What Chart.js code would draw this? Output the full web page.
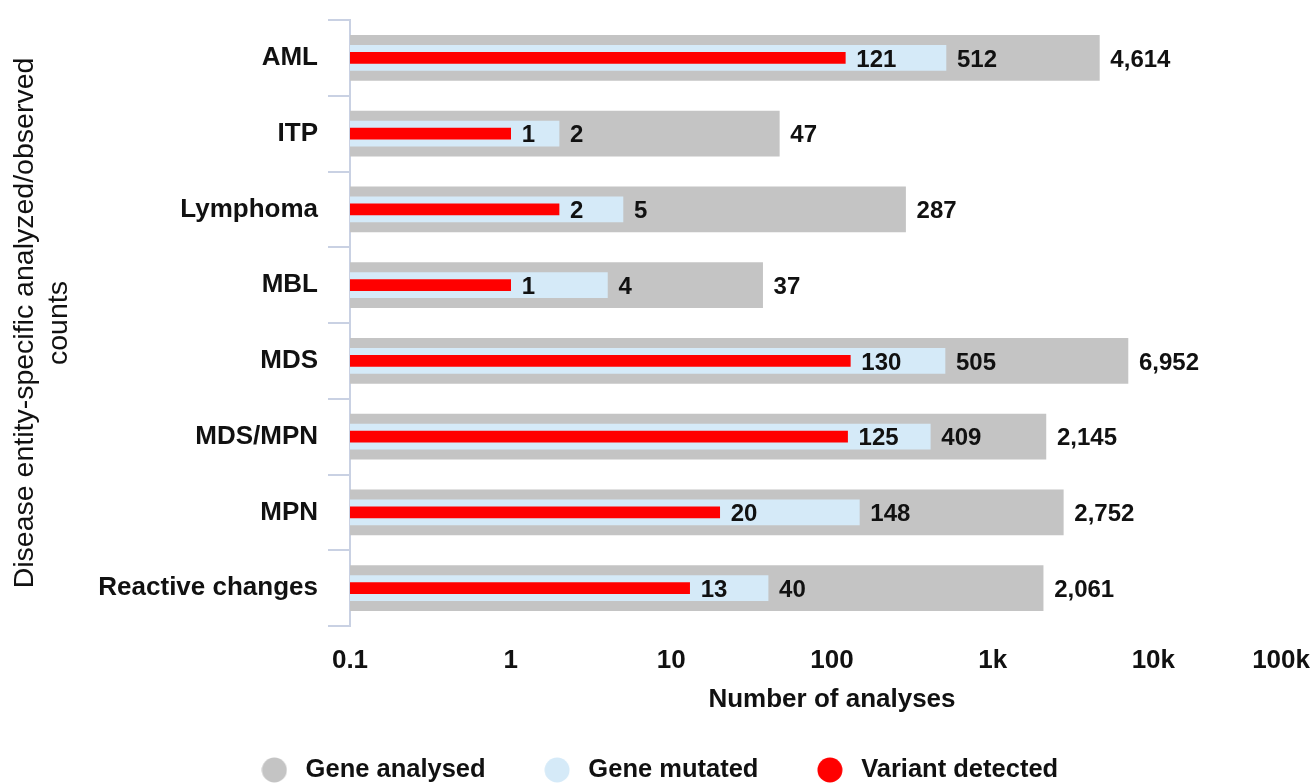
<!DOCTYPE html>
<html>
<head>
<meta charset="utf-8">
<title>Disease entity-specific analyses</title>
<script src="https://cdn.jsdelivr.net/npm/chart.js@4/dist/chart.umd.min.js"></script>
<style>
  html, body { margin: 0; padding: 0; background: #ffffff; }
  #wrap { position: relative; width: 1314px; height: 783px; }
</style>
</head>
<body>
<div id="wrap"><canvas id="chart"></canvas></div>
<script>
// Disease entities and their counts
const categories = ['AML', 'ITP', 'Lymphoma', 'MBL', 'MDS', 'MDS/MPN', 'MPN', 'Reactive changes'];
const geneAnalysed = [4614, 47, 287, 37, 6952, 2145, 2752, 2061];
const geneMutated = [512, 2, 5, 4, 505, 409, 148, 40];
const variantDetected = [121, 1, 2, 1, 130, 125, 20, 13];

// Logarithmic axis ticks
const tickValues = [0.1, 1, 10, 100, 1000, 10000, 100000];
const tickLabels = ['0.1', '1', '10', '100', '1k', '10k', '100k'];

const FONT = "'Liberation Sans', Arial, Helvetica, sans-serif";
const COLORS = { analysed: '#c4c4c4', mutated: '#d5eaf8', variant: '#ff0000' };
const AXIS_COLOR = '#c9d1e3';

// Round legend markers, drawn once as small canvases
function dot(color) {
  const c = document.createElement('canvas');
  c.width = 26; c.height = 26;
  const g = c.getContext('2d');
  g.fillStyle = color;
  g.beginPath();
  g.arc(13, 13, 12.5, 0, Math.PI * 2);
  g.fill();
  return c;
}

// Value labels at the end of each bar
const barValueLabels = {
  id: 'barValueLabels',
  afterDatasetsDraw(chart) {
    const ctx = chart.ctx;
    ctx.save();
    ctx.font = 'bold 24px ' + FONT;
    ctx.fillStyle = '#111111';
    ctx.textAlign = 'left';
    ctx.textBaseline = 'middle';
    // widest bars first so the narrower labels sit on top
    for (let d = chart.data.datasets.length - 1; d >= 0; d--) {
      const meta = chart.getDatasetMeta(d);
      const values = chart.data.datasets[d].data;
      meta.data.forEach((bar, i) => {
        ctx.fillText(values[i].toLocaleString('en-US'), bar.x + 11, bar.y + 2);
      });
    }
    ctx.restore();
  }
};

// Keep the last x tick label inside the canvas
const lastTickInside = {
  id: 'lastTickInside',
  beforeDraw(chart) {
    const xs = chart.scales.x;
    const items = xs.getLabelItems();
    const last = items[items.length - 1];
    if (last) {
      last.options.textAlign = 'right';
      last.options.translation = [xs.right - 4, last.options.translation[1]];
    }
  }
};

const markers = [dot(COLORS.variant), dot(COLORS.mutated), dot(COLORS.analysed)];

new Chart(document.getElementById('chart'), {
  type: 'bar',
  data: {
    labels: categories,
    datasets: [
      { label: 'Variant detected', data: variantDetected, backgroundColor: COLORS.variant, barThickness: 11, grouped: false },
      { label: 'Gene mutated', data: geneMutated, backgroundColor: COLORS.mutated, barThickness: 25, grouped: false },
      { label: 'Gene analysed', data: geneAnalysed, backgroundColor: COLORS.analysed, barThickness: 45, grouped: false }
    ]
  },
  options: {
    indexAxis: 'y',
    responsive: true,
    maintainAspectRatio: false,
    animation: false,
    layout: { padding: { top: 20, right: 0, left: 0, bottom: -9.75 } },
    scales: {
      x: {
        type: 'logarithmic',
        min: 0.1,
        max: 100000,
        afterBuildTicks(scale) {
          scale.ticks = tickValues.map(v => ({ value: v }));
        },
        afterFit(scale) {
          scale.paddingLeft = 0;
          scale.paddingRight = 0;
          scale.height = 78.25;
        },
        ticks: {
          callback: (v, i) => tickLabels[i],
          color: '#111111',
          font: { family: FONT, size: 26, weight: 'bold' },
          padding: 19,
          maxRotation: 0,
          autoSkip: false
        },
        grid: { display: false, drawTicks: false },
        border: { display: false },
        title: {
          display: true,
          text: 'Number of analyses',
          color: '#111111',
          font: { family: FONT, size: 26, weight: 'bold', lineHeight: 1 },
          padding: { top: 5, bottom: -9 }
        }
      },
      y: {
        afterFit(scale) {
          scale.width = 350;
          scale.paddingTop = 0;
          scale.paddingBottom = 0;
        },
        ticks: {
          color: '#111111',
          font: { family: FONT, size: 26, weight: 'bold' },
          padding: 10
        },
        grid: {
          offset: true,
          drawOnChartArea: false,
          color: AXIS_COLOR,
          lineWidth: 2,
          tickLength: 22
        },
        border: { color: AXIS_COLOR, width: 2 },
        title: {
          display: true,
          text: ['Disease entity-specific analyzed/observed', 'counts'],
          color: '#111111',
          font: { family: FONT, size: 28.5, weight: 'normal', lineHeight: 1.2 },
          padding: { top: 8, bottom: 0 }
        }
      }
    },
    plugins: {
      legend: {
        position: 'bottom',
        reverse: true,
        labels: {
          usePointStyle: true,
          pointStyleWidth: 37,
          boxHeight: 25,
          padding: 53,
          color: '#111111',
          font: { family: FONT, size: 25.5, weight: 'bold' },
          generateLabels(chart) {
            const items = Chart.defaults.plugins.legend.labels.generateLabels(chart);
            items.forEach(it => { it.pointStyle = markers[it.datasetIndex]; });
            return items;
          }
        }
      },
      tooltip: { enabled: false }
    }
  },
  plugins: [barValueLabels, lastTickInside]
});
</script>
</body>
</html>
